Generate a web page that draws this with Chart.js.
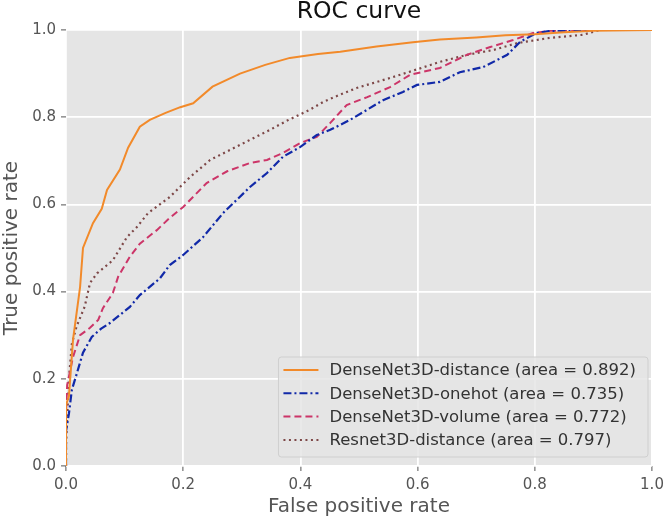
<!DOCTYPE html>
<html>
<head>
<meta charset="utf-8">
<script src="https://cdn.jsdelivr.net/npm/chart.js@4"></script>
<style>
  html, body { margin: 0; padding: 0; background: #fff; }
</style>
</head>
<body>
<canvas id="roc" width="665" height="521"></canvas>
<script>
// valores
const fprDistance = [0, 0, 0.005, 0.012, 0.024, 0.029, 0.046, 0.061, 0.07, 0.092, 0.106, 0.126, 0.143, 0.17, 0.195, 0.217, 0.25, 0.297, 0.34, 0.382, 0.43, 0.468, 0.53, 0.592, 0.638, 0.7, 0.75, 0.8, 0.85, 0.9, 1.0];
const tprDistance = [0, 0.14, 0.16, 0.29, 0.41, 0.50, 0.557, 0.59, 0.633, 0.68, 0.73, 0.778, 0.794, 0.81, 0.823, 0.832, 0.87, 0.90, 0.92, 0.936, 0.945, 0.95, 0.962, 0.972, 0.978, 0.983, 0.988, 0.99, 0.995, 0.998, 1.0];

const fprOnehot = [0, 0, 0.005, 0.01, 0.018, 0.029, 0.044, 0.06, 0.075, 0.109, 0.126, 0.16, 0.177, 0.2, 0.234, 0.268, 0.291, 0.314, 0.343, 0.37, 0.4, 0.428, 0.451, 0.485, 0.541, 0.575, 0.599, 0.638, 0.672, 0.712, 0.753, 0.775, 0.803, 0.826, 0.9, 1.0];
const tprOnehot = [0, 0.08, 0.12, 0.175, 0.21, 0.26, 0.296, 0.315, 0.328, 0.365, 0.392, 0.43, 0.461, 0.484, 0.525, 0.58, 0.61, 0.64, 0.672, 0.709, 0.732, 0.759, 0.771, 0.794, 0.839, 0.858, 0.874, 0.881, 0.903, 0.915, 0.943, 0.973, 0.993, 0.998, 1.0, 1.0];

const fprVolume = [0, 0, 0.002, 0.012, 0.024, 0.041, 0.055, 0.063, 0.08, 0.089, 0.109, 0.126, 0.155, 0.177, 0.2, 0.24, 0.275, 0.314, 0.343, 0.37, 0.4, 0.428, 0.451, 0.479, 0.514, 0.553, 0.587, 0.638, 0.684, 0.724, 0.763, 0.797, 0.826, 0.9, 1.0];
const tprVolume = [0, 0.12, 0.186, 0.25, 0.30, 0.317, 0.335, 0.362, 0.397, 0.434, 0.48, 0.51, 0.541, 0.569, 0.594, 0.649, 0.676, 0.695, 0.702, 0.718, 0.741, 0.755, 0.787, 0.828, 0.846, 0.869, 0.897, 0.913, 0.943, 0.961, 0.977, 0.993, 0.998, 1.0, 1.0];

const fprResnet = [0, 0, 0.005, 0.01, 0.018, 0.032, 0.041, 0.053, 0.08, 0.104, 0.121, 0.14, 0.177, 0.212, 0.246, 0.28, 0.314, 0.348, 0.38, 0.416, 0.439, 0.468, 0.496, 0.553, 0.609, 0.638, 0.684, 0.729, 0.77, 0.826, 0.882, 0.911, 1.0];
const tprResnet = [0, 0.05, 0.2, 0.28, 0.32, 0.366, 0.42, 0.442, 0.472, 0.525, 0.548, 0.58, 0.617, 0.663, 0.702, 0.725, 0.748, 0.771, 0.794, 0.817, 0.835, 0.852, 0.867, 0.89, 0.914, 0.927, 0.943, 0.954, 0.970, 0.982, 0.989, 1.0, 1.0];

const seriesLabels = [
    'DenseNet3D-distance (area = 0.892)',
    'DenseNet3D-onehot (area = 0.735)',
    'DenseNet3D-volume (area = 0.772)',
    'Resnet3D-distance (area = 0.797)'
];
const tickValues = [0, 0.2, 0.4, 0.6, 0.8, 1.0];

const FONT = "'DejaVu Sans', sans-serif";

function pts(xs, ys) {
    return xs.map((x, i) => ({ x: x, y: ys[i] }));
}

// fundo cinza da área do gráfico (estilo ggplot) + título centrado na área
const plotBg = {
    id: 'plotBg',
    afterLayout(chart) {
        if (chart.titleBlock) {
            chart.titleBlock.left = chart.chartArea.left;
            chart.titleBlock.right = chart.chartArea.right;
        }
    },
    beforeDraw(chart) {
        const a = chart.chartArea;
        const ctx = chart.ctx;
        ctx.save();
        ctx.fillStyle = '#e5e5e5';
        ctx.fillRect(a.left, a.top, a.right - a.left, a.bottom - a.top);
        ctx.restore();
    }
};

// legenda dentro do gráfico, canto inferior direito
const innerLegend = {
    id: 'innerLegend',
    afterDraw(chart) {
        const ctx = chart.ctx;
        const a = chart.chartArea;
        const sets = chart.data.datasets;
        ctx.save();
        ctx.font = '16.5px ' + FONT;
        const tw = Math.max(...sets.map(d => ctx.measureText(d.label).width));
        const rowH = 23.3;
        const w = 5 + 35 + 11 + tw + 12;
        const h = 100;
        const x = a.right - 4 - w;
        const y = a.bottom - 9 - h;
        ctx.beginPath();
        ctx.roundRect(x, y, w, h, 3);
        ctx.fillStyle = 'rgba(229,229,229,0.85)';
        ctx.fill();
        ctx.strokeStyle = '#cfcfcf';
        ctx.lineWidth = 1;
        ctx.stroke();
        sets.forEach((d, i) => {
            const cy = y + 13 + i * rowH;
            ctx.beginPath();
            ctx.setLineDash(d.borderDash || []);
            ctx.strokeStyle = d.borderColor;
            ctx.lineWidth = 2;
            ctx.moveTo(x + 5, cy);
            ctx.lineTo(x + 40, cy);
            ctx.stroke();
            ctx.setLineDash([]);
            ctx.fillStyle = '#333';
            ctx.textBaseline = 'middle';
            ctx.textAlign = 'left';
            ctx.fillText(d.label, x + 51, cy + 1);
        });
        ctx.restore();
    }
};

const config = {
    type: 'line',
    data: {
        datasets: [{
            label: seriesLabels[0],
            data: pts(fprDistance, tprDistance),
            borderColor: '#f28a2a',
            borderWidth: 2,
        }, {
            label: seriesLabels[1],
            data: pts(fprOnehot, tprOnehot),
            borderColor: '#1129a8',
            borderWidth: 2.2,
            borderDash: [8, 3, 2, 3],
        }, {
            label: seriesLabels[2],
            data: pts(fprVolume, tprVolume),
            borderColor: '#cc3568',
            borderWidth: 2,
            borderDash: [7, 4],
        }, {
            label: seriesLabels[3],
            data: pts(fprResnet, tprResnet),
            borderColor: '#7d4747',
            borderWidth: 2.2,
            borderDash: [2, 3.5],
        }]
    },
    options: {
        responsive: false,
        animation: false,
        elements: {
            point: { radius: 0 },
            line: { tension: 0, fill: false }
        },
        layout: {
            padding: { left: 0, right: 13, top: 0, bottom: 0 }
        },
        plugins: {
            legend: { display: false },
            tooltip: { enabled: false },
            title: {
                display: true,
                text: 'ROC curve',
                color: '#111',
                font: { family: FONT, size: 23.5, weight: 'normal', lineHeight: 1 },
                padding: { top: 0, bottom: 6.5 }
            }
        },
        scales: {
            x: {
                type: 'linear',
                min: 0,
                max: 1,
                afterBuildTicks(scale) {
                    scale.ticks = tickValues.map(v => ({ value: v }));
                },
                afterFit(scale) {
                    scale.height = 55;
                    scale.paddingLeft = 0;
                    scale.paddingRight = 0;
                },
                border: { display: false },
                grid: {
                    color: '#ffffff',
                    lineWidth: 1.8,
                    tickColor: '#555',
                    tickLength: 5,
                    tickWidth: 1
                },
                ticks: {
                    color: '#555',
                    padding: 5,
                    maxRotation: 0,
                    font: { family: FONT, size: 15 },
                    callback: v => v.toFixed(1)
                },
                title: {
                    display: true,
                    text: 'False positive rate',
                    color: '#555',
                    padding: { top: 4, bottom: 2 },
                    font: { family: FONT, size: 20 }
                }
            },
            y: {
                type: 'linear',
                min: 0,
                max: 1,
                afterBuildTicks(scale) {
                    scale.ticks = tickValues.map(v => ({ value: v }));
                },
                afterFit(scale) {
                    scale.width = 66;
                    scale.paddingTop = 0;
                    scale.paddingBottom = 0;
                },
                border: { display: false },
                grid: {
                    color: '#ffffff',
                    lineWidth: 1.8,
                    tickColor: '#555',
                    tickLength: 5,
                    tickWidth: 1
                },
                ticks: {
                    color: '#555',
                    padding: 5,
                    font: { family: FONT, size: 15 },
                    callback: v => v.toFixed(1)
                },
                title: {
                    display: true,
                    text: 'True positive rate',
                    color: '#555',
                    padding: { top: 0, bottom: 0 },
                    font: { family: FONT, size: 20 }
                }
            }
        }
    },
    plugins: [plotBg, innerLegend]
};

new Chart(document.getElementById('roc').getContext('2d'), config);
</script>
</body>
</html>
